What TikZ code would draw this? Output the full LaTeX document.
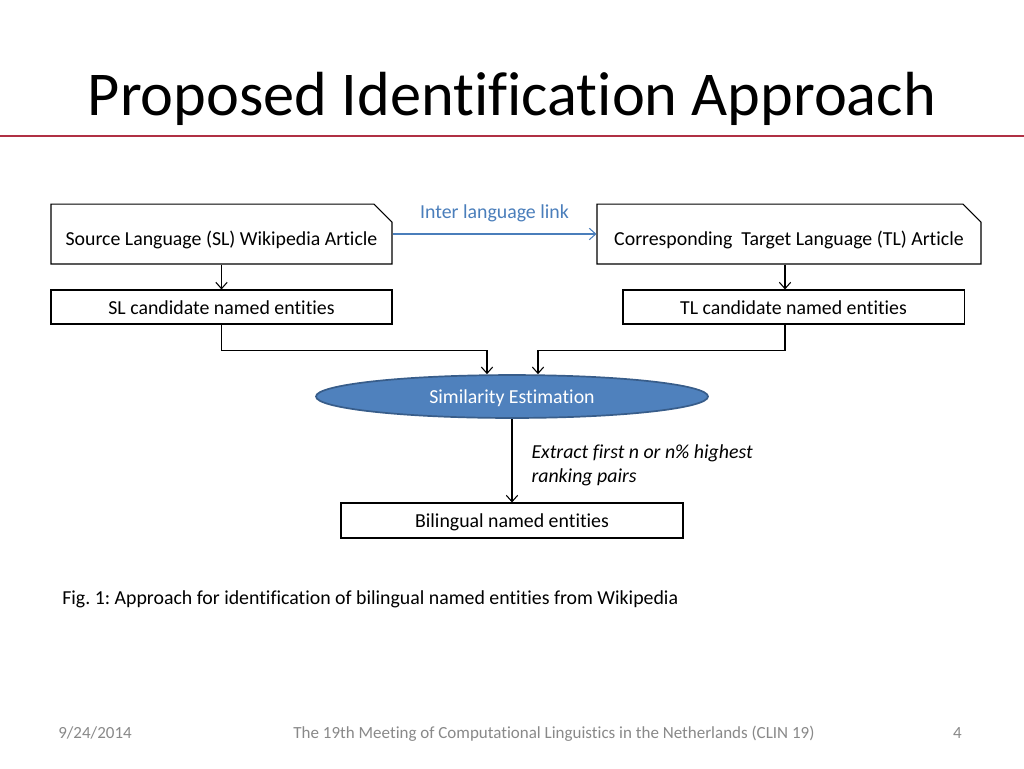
\documentclass[tikz,border=0pt]{standalone}
\usepackage{fontspec}
\setmainfont{Carlito}[Ligatures=NoCommon]
\usetikzlibrary{positioning}
\usetikzlibrary{shapes.misc}
\usetikzlibrary{shapes.geometric}
\usetikzlibrary{calc}
\usetikzlibrary{arrows.meta}
\definecolor{linkblue}{RGB}{74,126,187}
\definecolor{ovalfill}{RGB}{79,129,189}
\definecolor{ovaldraw}{RGB}{56,93,138}
\definecolor{rulered}{RGB}{176,48,68}
\definecolor{footgray}{RGB}{137,137,137}
\frenchspacing

\begin{document}
\begin{tikzpicture}[x=0.7058pt, y=-0.7058pt,
  box/.style={draw=black, line width=0.75pt, rectangle, inner sep=0pt, minimum width=240.7pt, minimum height=24pt, text height=13pt, text depth=3pt, font=\fontsize{14}{17}\selectfont},
  article/.style={box, chamfered rectangle, chamfered rectangle corners=north east, chamfered rectangle xsep=6.4pt, chamfered rectangle ysep=6.4pt, minimum height=42.3pt, text height=18.8pt},
  oval/.style={ellipse, draw=ovaldraw, fill=ovalfill, line width=1.2pt, inner sep=0pt, minimum width=276.7pt, minimum height=30.3pt, text height=13pt, text depth=3pt, text=white, font=\fontsize{14}{17}\selectfont},
  flow/.style={-{Straight Barb[length=4.5pt,width=8pt]}, black, line width=0.75pt},
  link/.style={-{Straight Barb[length=4.5pt,width=8pt]}, linkblue, line width=0.75pt},
  plain/.style={inner sep=0pt, font=\fontsize{14}{17}\selectfont},
  foot/.style={plain, text=footgray, font=\fontsize{12}{14}\selectfont}]

\fill[white] (0,0) rectangle (1024,768);
\useasboundingbox (0,0) rectangle (1024,768);

% title
\node[plain, anchor=base, font=\fontsize{44}{50}\selectfont] (title) at (512,115) {Proposed Identification Approach};
\draw[rulered, line width=1pt] (0,136) -- (1024,136);

% boxes
\node[article] (slart) at (221.5,234) {Source Language (SL) Wikipedia Article};
\node[article, minimum width=271pt] (tlart) at (789,234) {Corresponding \ Target Language (TL) Article};

\node[box] (slcand) at (221.5,307) {SL candidate named entities};
\node[box] (tlcand) at (793.5,307) {TL candidate named entities};

\node[oval] (sim) at (512,396.5) {Similarity Estimation};

\node[box, minimum width=241.4pt, minimum height=24.7pt] (bil) at (512,520.5) {Bilingual named entities};

% arrows
\draw[link] (slart.east) -- (tlart.west) node[midway, plain, anchor=base, yshift=11pt, text=linkblue] {Inter language link};

\draw[flow] (slart.south) -- (slcand.north);
\draw[flow] ($(tlart.south)+(-4,0)$) -- ($(tlcand.north)+(-8.5,0)$);

\draw[flow] (slcand.south) -- ++(0,26) -| ($(sim.north)+(-25,0)$);
\draw[flow] ($(tlcand.south)+(-8.5,0)$) -- ++(0,26) -| ($(sim.north)+(26,0)$);

\draw[flow] (sim.south) -- (bil.north) node[midway, plain, anchor=west, xshift=13.4pt, yshift=-3pt, align=left, font=\fontsize{14}{17}\selectfont\itshape] {Extract first n or n\% highest\\ranking pairs};

% caption and footer
\node[plain, anchor=base west] (caption) at (62,604) {Fig. 1: Approach for identification of bilingual named entities from Wikipedia};

\node[foot, anchor=base west] (date) at (58,738) {9/24/2014};
\node[foot, anchor=base] (meeting) at (554,738) {The 19th Meeting of Computational Linguistics in the Netherlands (CLIN 19)};
\node[foot, anchor=base east] (page) at (962,738) {4};

\end{tikzpicture}
\end{document}
